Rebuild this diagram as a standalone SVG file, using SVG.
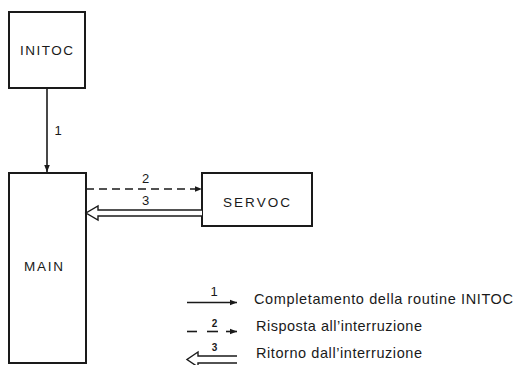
<svg xmlns="http://www.w3.org/2000/svg" width="515" height="365" viewBox="0 0 515 365">
<defs>
<style>
.box{fill:#fff;stroke:#1a1a1a;stroke-width:2}
.lbl{font-family:"Liberation Sans",Arial,sans-serif;font-size:13.5px;fill:#1a1a1a;text-anchor:middle}
.num{font-family:"Liberation Sans",Arial,sans-serif;font-size:13px;fill:#1a1a1a;text-anchor:middle}
.sm{font-family:"Liberation Sans",Arial,sans-serif;font-size:10px;font-weight:bold;fill:#1a1a1a;text-anchor:middle}
.leg{font-family:"Liberation Sans",Arial,sans-serif;font-size:14.5px;fill:#1a1a1a}
.ln{fill:none;stroke:#1a1a1a;stroke-width:1.6}
.dash{fill:none;stroke:#1a1a1a;stroke-width:1.6;stroke-dasharray:8 5}
.hollow{fill:#fff;stroke:#1a1a1a;stroke-width:1.4;stroke-linejoin:miter}
</style>
<marker id="ah" viewBox="0 0 10 10" refX="10" refY="5" markerWidth="7" markerHeight="7" markerUnits="userSpaceOnUse" orient="auto">
<path d="M0,1 L10,5 L0,9 Z" fill="#1a1a1a"/>
</marker>
</defs>

<g id="initoc">
<rect class="box" x="9" y="12" width="76" height="76"/>
<text class="lbl" x="46.5" y="55" textLength="53" lengthAdjust="spacing">INITOC</text>
</g>

<g id="main">
<rect class="box" x="9" y="173" width="77" height="190"/>
<text class="lbl" x="43.5" y="271" textLength="39" lengthAdjust="spacing">MAIN</text>
</g>

<g id="servoc">
<rect class="box" x="202" y="173" width="110" height="53"/>
<text class="lbl" x="256.5" y="207" font-size="14" textLength="67" lengthAdjust="spacing">SERVOC</text>
</g>

<g id="connectors">
<line class="ln" x1="47" y1="88" x2="47" y2="172" marker-end="url(#ah)"/>
<text class="num" x="58" y="135" font-size="11">1</text>

<line class="dash" x1="86" y1="189" x2="202" y2="189" marker-end="url(#ah)"/>
<text class="num" x="145.5" y="183" font-size="14">2</text>

<path class="hollow" d="M202,210 H98 V206 L86,213 L98,220 V216 H202"/>
<text class="num" x="145.5" y="205" font-size="14">3</text>
</g>

<g id="legend">
<line class="ln" x1="187" y1="302.5" x2="237" y2="302.5" marker-end="url(#ah)"/>
<text class="num" x="214" y="296" font-size="9">1</text>
<text class="leg" x="254" y="303.5" textLength="259" lengthAdjust="spacing">Completamento della routine INITOC</text>

<line class="ln" x1="187" y1="331.5" x2="197" y2="331.5"/>
<line class="ln" x1="207" y1="331.5" x2="218" y2="331.5"/>
<line class="ln" x1="226" y1="331.5" x2="237" y2="331.5" marker-end="url(#ah)"/>
<text class="sm" x="214.5" y="327">2</text>
<text class="leg" x="256" y="330.5" textLength="166" lengthAdjust="spacing">Risposta all’interruzione</text>

<path class="hollow" d="M237,356 H198 V352 L187,359.5 L198,367 V363 H237"/>
<text class="sm" x="214.5" y="351">3</text>
<text class="leg" x="256" y="357.5" textLength="166" lengthAdjust="spacing">Ritorno dall’interruzione</text>
</g>
</svg>
